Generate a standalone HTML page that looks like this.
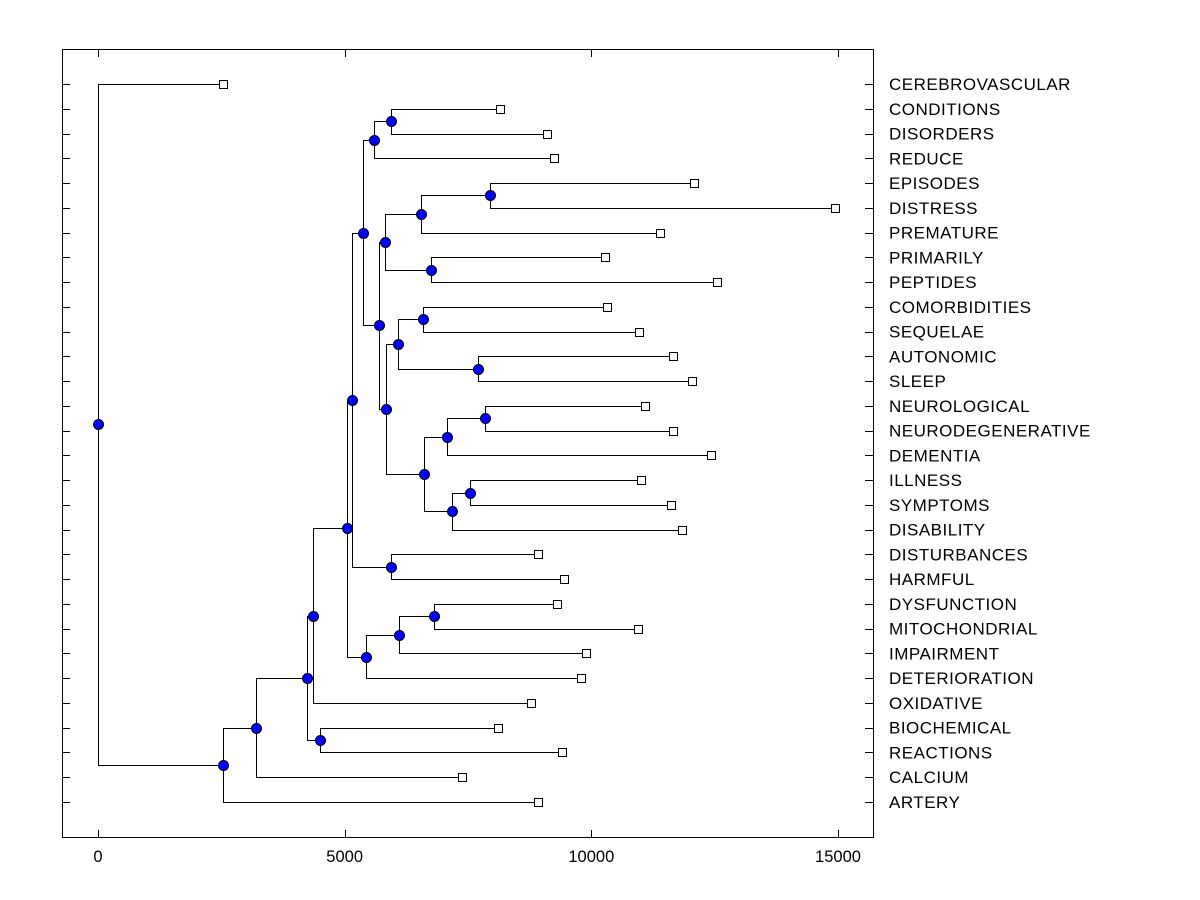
<!DOCTYPE html>
<html><head><meta charset="utf-8"><style>body{margin:0;background:#fff}svg{display:block}text{font-family:"Liberation Sans",Arial,sans-serif}</style></head>
<body>
<svg id="chart" width="1200" height="900" xmlns="http://www.w3.org/2000/svg"></svg>
<script>
const leafNames=["CEREBROVASCULAR","CONDITIONS","DISORDERS","REDUCE","EPISODES","DISTRESS","PREMATURE","PRIMARILY","PEPTIDES","COMORBIDITIES","SEQUELAE","AUTONOMIC","SLEEP","NEUROLOGICAL","NEURODEGENERATIVE","DEMENTIA","ILLNESS","SYMPTOMS","DISABILITY","DISTURBANCES","HARMFUL","DYSFUNCTION","MITOCHONDRIAL","IMPAIRMENT","DETERIORATION","OXIDATIVE","BIOCHEMICAL","REACTIONS","CALCIUM","ARTERY"];
const leafValues=[2530,8140,9110,9250,12090,14940,11400,10280,12550,10320,10970,11660,12040,11090,11660,12430,11010,11620,11840,8910,9450,9310,10950,9900,9800,8770,8100,9410,7370,8910];
// merges: [id, childA, childB, height]
const mergeIds=["N15","N13","N20","N18","N19","N16","N23","N24","N21","N27","N25","N28","N26","N22","N17","N14","N11","N12","N7","N10","N9","N8","N6","N4","N5","N3","N2","N1","ROOT"];
const mergeA=["CONDITIONS","N15","EPISODES","N20","PRIMARILY","N18","COMORBIDITIES","AUTONOMIC","N23","NEUROLOGICAL","N27","ILLNESS","N28","N25","N21","N16","N13","DISTURBANCES","N11","DYSFUNCTION","N10","N9","N7","N6","BIOCHEMICAL","N4","N3","N2","CEREBROVASCULAR"];
const mergeB=["DISORDERS","REDUCE","DISTRESS","PREMATURE","PEPTIDES","N19","SEQUELAE","SLEEP","N24","NEURODEGENERATIVE","DEMENTIA","SYMPTOMS","DISABILITY","N26","N22","N17","N14","HARMFUL","N12","MITOCHONDRIAL","IMPAIRMENT","DETERIORATION","N8","OXIDATIVE","REACTIONS","N5","CALCIUM","ARTERY","N1"];
const mergeHeights=[5930,5590,7940,6540,6760,5810,6580,7710,6090,7850,7070,7550,7170,6600,5830,5690,5380,5930,5140,6820,6110,5430,5040,4350,4510,4230,3200,2530,0];
const xTicks=[0,5000,10000,15000];

const svg=document.getElementById('chart');const NS='http://www.w3.org/2000/svg';
const L=62,R=873,T=49,B=837;
const xs=v=>98+v*(838-98)/15000;
const ys=i=>84+i*(802-84)/29;
function mk(tag,a,p){const e=document.createElementNS(NS,tag);for(const k in a)e.setAttribute(k,a[k]);(p||svg).appendChild(e);return e;}
const frame=mk('rect',{x:L+.5,y:T+.5,width:R-L,height:B-T,fill:'none',stroke:'#000'});


const pos={};
leafNames.forEach((n,i)=>{pos[n]={x:xs(leafValues[i]),y:ys(i),leaf:true};});
mergeIds.forEach((id,k)=>{const a=pos[mergeA[k]],b=pos[mergeB[k]];pos[id]={x:xs(mergeHeights[k]),y:(a.y+b.y)/2,leaf:false};});
const lines=mk('g',{stroke:'#000','stroke-width':1,fill:'none'});


const r=v=>Math.round(v)+.5;
mergeIds.forEach((id,k)=>{const p=pos[id];
 [mergeA[k],mergeB[k]].forEach(c=>{const q=pos[c];
  const pl=mk('polyline',{points:`${r(p.x)},${r(p.y)} ${r(p.x)},${r(q.y)} ${r(q.x)},${r(q.y)}`},lines);
  
  });});
leafNames.forEach((n,i)=>{const p=pos[n];
 const s=mk('rect',{x:Math.round(p.x)-4+.5,y:Math.round(p.y)-4+.5,width:8,height:8,fill:'#fff',stroke:'#000'});
 
 
 const t=mk('text',{x:889,y:p.y+6,'font-size':17,'letter-spacing':0.5,fill:'#000'});t.textContent=n;
 
 
 const tl=mk('line',{x1:L,x2:L+8,y1:r(p.y),y2:r(p.y),stroke:'#000'});
 
 
 const tr=mk('line',{x1:R-8,x2:R,y1:r(p.y),y2:r(p.y),stroke:'#000'});
 
 });
mergeIds.forEach(id=>{const p=pos[id];
 const c=mk('circle',{cx:Math.round(p.x)+.5,cy:Math.round(p.y)+.5,r:5,fill:'#0000ff',stroke:'#000'});
 
 });
xTicks.forEach(v=>{const x=r(xs(v));
 const a=mk('line',{x1:x,x2:x,y1:B-7,y2:B,stroke:'#000'});
 
 
 const b=mk('line',{x1:x,x2:x,y1:T,y2:T+8,stroke:'#000'});
 
 
 const t=mk('text',{x:xs(v),y:862,'font-size':16.5,'text-anchor':'middle',fill:'#000'});t.textContent=v;
 
 });
</script>
</body></html>
